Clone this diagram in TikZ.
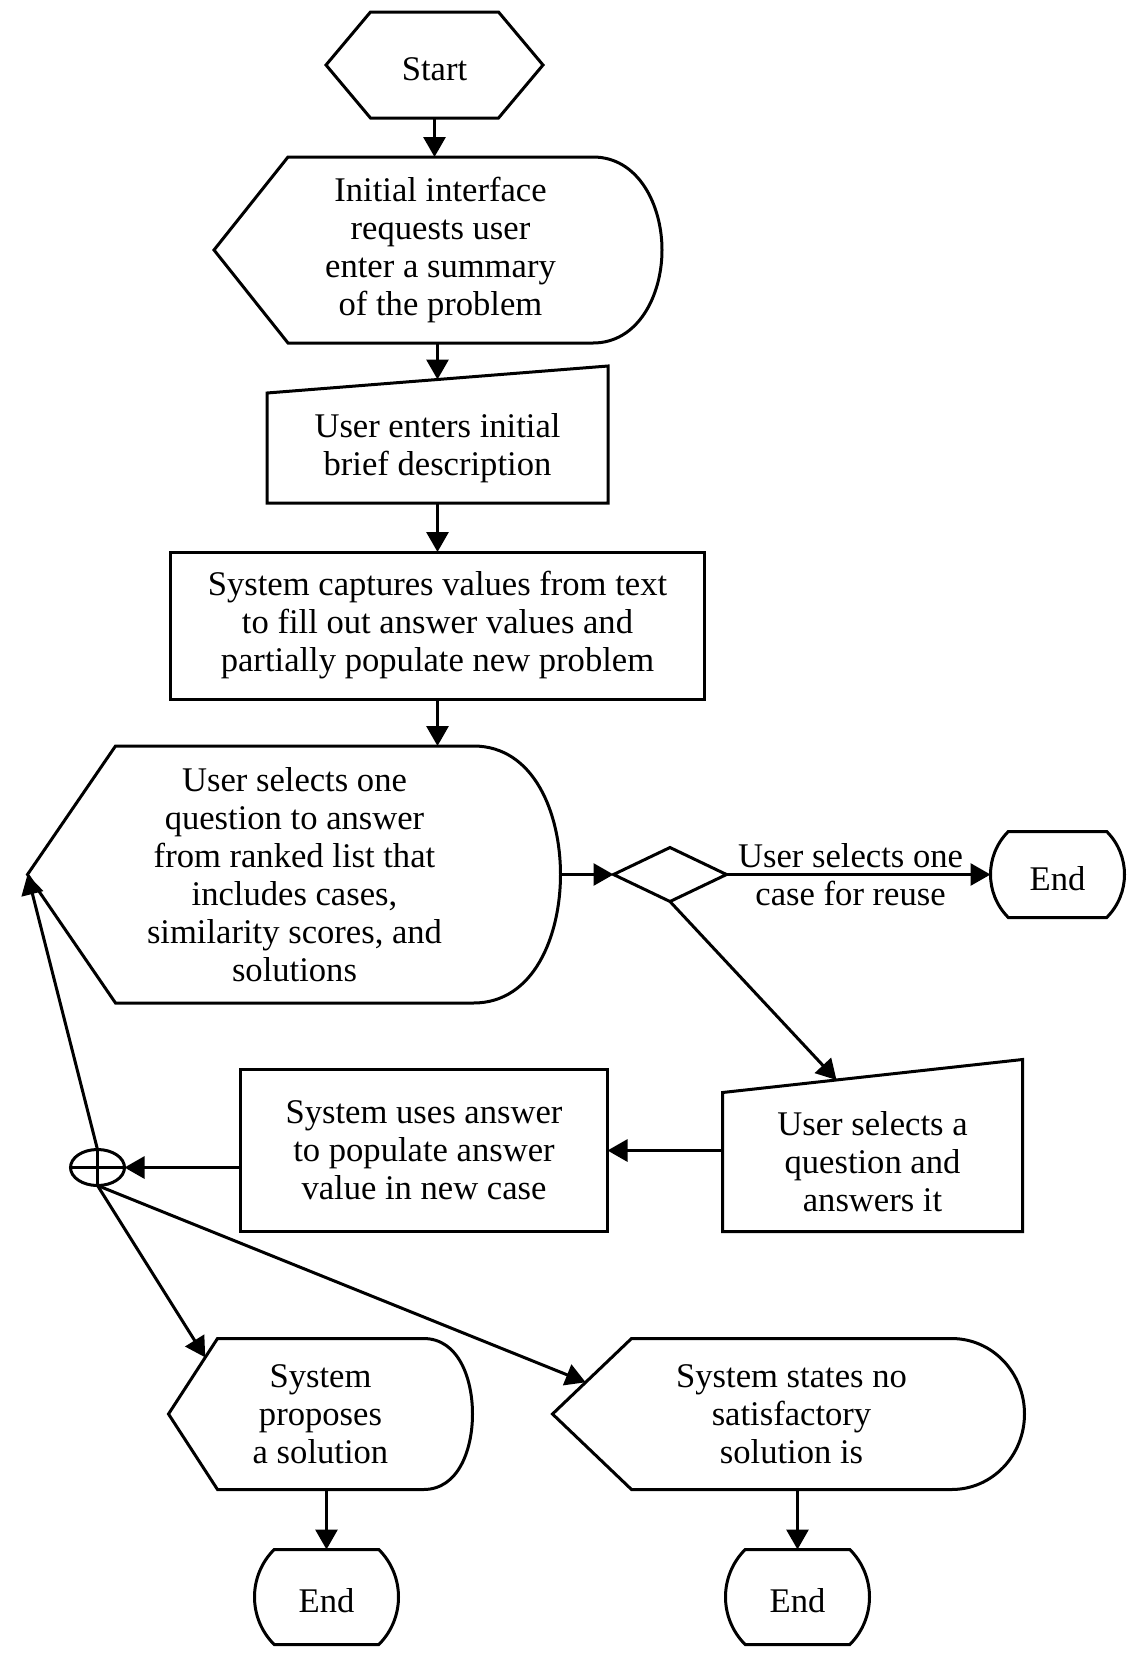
\documentclass[tikz,border=0pt]{standalone}
\usepackage{fontspec}
\setmainfont{Liberation Serif}
\usetikzlibrary{arrows.meta, shapes.geometric, shapes.misc, shapes.symbols, positioning, calc}

\tikzset{
	base/.style={line width=1.5pt, align=center, inner sep=0pt, outer sep=0pt},
	txtbox/.style={base, execute at begin node={\rule{0pt}{16pt}}},
	prep/.style={txtbox, draw, signal, signal to=west and east, signal pointer angle=100},
	process/.style={txtbox, draw, rectangle},
	manual/.style={txtbox, rectangle},
	display/.style={txtbox, rectangle},
	terminal/.style={txtbox, draw, rounded rectangle, rounded rectangle arc length=90},
	decision/.style={base, draw, diamond},
	junction/.style={base, draw, ellipse, minimum width=27pt, minimum height=18pt,
		path picture={\draw[line width=1.5pt] (path picture bounding box.north) -- (path picture bounding box.south)
			(path picture bounding box.west) -- (path picture bounding box.east);}},
	arr/.style={line width=1.5pt, -{Triangle[length=10pt, width=11pt]}},
}

\newcommand{\dispshape}[3]{%
	\draw[line width=1.5pt] ([xshift=-#2]#1.west) coordinate (#1-tip) -- (#1.north west) -- (#1.north east)
		to[out=0, in=90] ([xshift=#3]#1.east) coordinate (#1-end)
		to[out=-90, in=0] (#1.south east) -- (#1.south west) -- cycle;}
\newcommand{\manshape}[2]{%
	\draw[line width=1.5pt] (#1.north west) -- ([yshift=#2]#1.north east) coordinate (#1-ne)
		-- (#1.south east) -- (#1.south west) -- cycle;
	\coordinate (#1-top) at ($(#1.north west)!.5!(#1-ne)$);}

\begin{document}
\begin{tikzpicture}[font=\fontsize{17.3}{19}\selectfont]
	\useasboundingbox (0,0) rectangle (565pt,-833pt);

	\node[prep, minimum width=108.5pt, minimum height=53pt] 										(Start) 	at (217.25pt,-32.5pt) {Start};
	\node[display, minimum width=152.5pt, minimum height=93pt, below=19.5pt of Start, xshift=3pt] 		(Init) 		{Initial interface\\ requests user\\ enter a summary\\ of the problem};
	\node[manual, minimum width=170.5pt, minimum height=55pt, below=25pt of Init, xshift=-1.5pt] 		(Enter) 	{User enters initial\\ brief description};
	\node[process, minimum width=267pt, minimum height=73.5pt, below=24.5pt of Enter] 					(Capture) 	{System captures values from text\\ to fill out answer values and\\ partially populate new problem};
	\node[display, minimum width=179pt, minimum height=128.5pt, below=23.5pt of Capture, xshift=-71.5pt] 	(Select) 	{User selects one\\ question to answer\\ from ranked list that\\ includes cases,\\ similarity scores, and\\ solutions};
	\node[decision, minimum width=56.5pt, minimum height=27pt, right=70pt of Select] 					(Dec) 		{};
	\node[terminal, minimum width=67pt, minimum height=43pt, right=132pt of Dec] 						(EndA) 		{End};
	\node[manual, minimum width=150pt, minimum height=69.5pt, below=95.5pt of Dec, xshift=101.25pt] 	(Pick) 		{User selects a\\ question and\\ answers it};
	\node[process, minimum width=183.5pt, minimum height=81pt, left=57.5pt of Pick, yshift=5.75pt] 		(Use) 		{System uses answer\\ to populate answer\\ value in new case};
	\node[junction, left=58pt of Use, yshift=-8.5pt] 													(Join) 		{};
	\node[display, minimum width=103pt, minimum height=75.5pt, below=53.5pt of Use, xshift=-51.75pt] 	(Prop) 		{System\\ proposes\\ a solution};
	\node[display, minimum width=160pt, minimum height=75.5pt, right=104pt of Prop] 					(NoSol) 	{System states no\\ satisfactory\\ solution is};
	\node[terminal, minimum width=72pt, minimum height=47.5pt, below=30pt of Prop, xshift=3pt] 			(EndB) 		{End};
	\node[terminal, minimum width=72pt, minimum height=47.5pt, below=30pt of NoSol, xshift=3pt] 		(EndC) 		{End};

	\dispshape{Init}{37pt}{34.5pt}
	\dispshape{Select}{44pt}{43.5pt}
	\dispshape{Prop}{24.5pt}{24.5pt}
	\dispshape{NoSol}{39.5pt}{36.5pt}
	\manshape{Enter}{13.5pt}
	\manshape{Pick}{16.5pt}

	\draw[arr] (Start.south) -- (Start.south |- Init.north);
	\draw[arr] (Enter-top |- Init.south) -- (Enter-top);
	\draw[arr] (Enter.south) -- (Enter.south |- Capture.north);
	\draw[arr] (Capture.south) -- (Capture.south |- Select.north);
	\draw[arr] (Select-end) -- (Dec.west);
	\draw[arr] (Dec.east) -- node[pos=0.47, align=center] {User selects one\\ case for reuse} (EndA.west);
	\draw[arr] (Dec.south) -- ($(Pick.north west)!.38!(Pick-ne)$);
	\draw[arr] (Pick.west |- Use.east) -- (Use.east);
	\draw[arr] (Use.west |- Join.east) -- (Join.east);
	\draw[arr] (Join.north) -- (Select-tip);
	\draw[arr] (Join.south) -- ($(Prop.north west)!.25!(Prop-tip)$);
	\draw[arr] (Join.south) -- ($(NoSol.north west)!.58!(NoSol-tip)$);
	\draw[arr] (EndB.north |- Prop.south) -- (EndB.north);
	\draw[arr] (EndC.north |- NoSol.south) -- (EndC.north);
\end{tikzpicture}
\end{document}
